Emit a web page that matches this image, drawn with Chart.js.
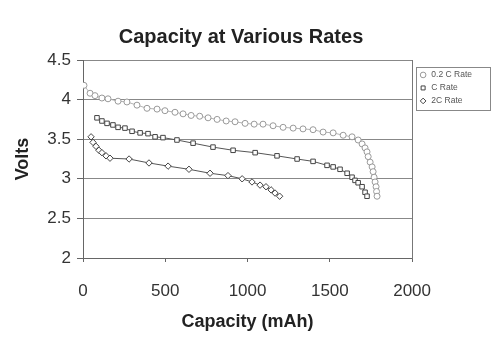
<!DOCTYPE html>
<html>
<head>
<meta charset="utf-8">
<script src="https://cdn.jsdelivr.net/npm/chart.js@4/dist/chart.umd.min.js"></script>
<style>
  html, body { margin: 0; padding: 0; background: #fff; }
</style>
</head>
<body>
<canvas id="rates" width="493" height="338"></canvas>
<script>
// capacity (mAh) / volts for each discharge rate
const cap02C = [6, 43, 73, 115, 152, 213, 267, 328, 389, 450, 498, 559, 608, 657, 709, 760, 815, 870, 924, 985,
  1040, 1094, 1155, 1216, 1277, 1337, 1398, 1459, 1520, 1581, 1635, 1672, 1696, 1714, 1726, 1733, 1745, 1757,
  1763, 1769, 1775, 1781, 1784, 1787];
const volt02C = [4.18, 4.08, 4.05, 4.02, 4.01, 3.98, 3.97, 3.93, 3.89, 3.88, 3.86, 3.84, 3.82, 3.80, 3.79, 3.77,
  3.75, 3.73, 3.72, 3.70, 3.69, 3.69, 3.67, 3.65, 3.64, 3.63, 3.62, 3.59, 3.58, 3.55, 3.53, 3.49, 3.44, 3.39,
  3.34, 3.28, 3.21, 3.15, 3.09, 3.02, 2.96, 2.90, 2.84, 2.78];

const capC = [85, 115, 146, 182, 213, 255, 298, 347, 395, 438, 486, 571, 669, 790, 912, 1046, 1179, 1301, 1398,
  1483, 1520, 1562, 1605, 1635, 1653, 1672, 1696, 1714, 1726];
const voltC = [3.77, 3.73, 3.70, 3.68, 3.65, 3.64, 3.60, 3.58, 3.57, 3.53, 3.52, 3.49, 3.45, 3.40, 3.36, 3.33,
  3.29, 3.25, 3.22, 3.17, 3.15, 3.12, 3.07, 3.02, 2.98, 2.95, 2.90, 2.83, 2.78];

const cap2C = [49, 61, 79, 97, 115, 140, 164, 280, 401, 517, 644, 772, 881, 967, 1027, 1076, 1112, 1143, 1167, 1195];
const volt2C = [3.53, 3.46, 3.41, 3.36, 3.33, 3.29, 3.26, 3.25, 3.20, 3.16, 3.12, 3.07, 3.04, 3.00, 2.96, 2.92,
  2.90, 2.86, 2.82, 2.78];

const seriesNames = ['0.2 C Rate', 'C Rate', '2C Rate'];
const xTicks = [0, 500, 1000, 1500, 2000];
const yTicks = [2, 2.5, 3, 3.5, 4, 4.5];

const font = "'Liberation Sans', Arial, sans-serif";

function pts(xs, ys) {
  return xs.map((x, i) => ({ x: x, y: ys[i] }));
}

// thin frame round the legend, like the old spreadsheet chart
const legendFrame = {
  id: 'legendFrame',
  afterDraw(chart) {
    const hb = chart.legend && chart.legend.legendHitBoxes;
    if (!hb || !hb.length) return;
    const first = hb[0], last = hb[hb.length - 1];
    const ctx = chart.ctx;
    const x0 = Math.round(first.left) - 2.5;
    const y0 = Math.round(first.top) - 3.5;
    const x1 = 490.5;
    const y1 = Math.round(last.top + last.height) + 5.5;
    ctx.save();
    ctx.strokeStyle = '#888';
    ctx.lineWidth = 1;
    ctx.strokeRect(x0, y0, x1 - x0, y1 - y0);
    ctx.restore();
  }
};

new Chart(document.getElementById('rates'), {
  type: 'scatter',
  data: {
    datasets: [{
      label: seriesNames[0],
      data: pts(cap02C, volt02C),
      showLine: true,
      borderColor: '#b4b4b4',
      backgroundColor: '#fff',
      borderWidth: 1,
      pointStyle: 'circle',
      pointRadius: 3,
      pointBorderColor: '#999',
      pointBackgroundColor: '#fff',
      pointBorderWidth: 1
    }, {
      label: seriesNames[1],
      data: pts(capC, voltC),
      showLine: true,
      borderColor: '#555',
      backgroundColor: '#fff',
      borderWidth: 1,
      pointStyle: 'rect',
      pointRadius: 3.2,
      pointBorderColor: '#444',
      pointBackgroundColor: '#fff',
      pointBorderWidth: 1
    }, {
      label: seriesNames[2],
      data: pts(cap2C, volt2C),
      showLine: true,
      borderColor: '#555',
      backgroundColor: '#fff',
      borderWidth: 1,
      pointStyle: 'rectRot',
      pointRadius: 3.2,
      pointBorderColor: '#444',
      pointBackgroundColor: '#fff',
      pointBorderWidth: 1
    }]
  },
  options: {
    responsive: false,
    animation: false,
    layout: { padding: { top: 0, right: 11, bottom: 0, left: 0 } },
    plugins: {
      title: {
        display: true,
        text: 'Capacity at Various Rates',
        color: '#222',
        font: { family: font, size: 20, weight: 'bold' },
        padding: { top: 25, bottom: 11 }
      },
      legend: {
        position: 'right',
        align: 'start',
        fullSize: false,
        title: { display: true, text: '', font: { size: 1 }, padding: { top: 0, bottom: 5 } },
        labels: {
          usePointStyle: true,
          boxWidth: 8,
          boxHeight: 4,
          padding: 4.5,
          color: '#555',
          font: { family: font, size: 8.5 }
        }
      },
      tooltip: { enabled: false }
    },
    scales: {
      x: {
        type: 'linear',
        min: 0,
        max: 2000,
        afterBuildTicks: (s) => { s.ticks = xTicks.map(v => ({ value: v })); },
        afterFit: (s) => { s.height = 80; },
        ticks: {
          color: '#333', padding: 19, maxRotation: 0,
          font: { family: font, size: 17 },
          callback: (v) => String(v)
        },
        grid: { drawOnChartArea: false, tickLength: 4, color: '#666' },
        border: { color: '#666' },
        title: {
          display: true,
          text: 'Capacity (mAh)',
          color: '#222',
          font: { family: font, size: 18, weight: 'bold' },
          padding: { top: 0, bottom: 5 }
        }
      },
      y: {
        type: 'linear',
        min: 2,
        max: 4.5,
        afterBuildTicks: (s) => { s.ticks = yTicks.map(v => ({ value: v })); },
        afterFit: (s) => { s.width = 83; },
        ticks: {
          color: '#333', padding: 6,
          font: { family: font, size: 17 },
          callback: (v) => String(v)
        },
        grid: { color: '#888', tickLength: 6, tickColor: '#666' },
        border: { color: '#666' },
        title: {
          display: true,
          text: 'Volts',
          color: '#222',
          font: { family: font, size: 18, weight: 'bold' },
          padding: { top: 12, bottom: 0 }
        }
      },
      yRight: {
        type: 'linear',
        position: 'right',
        min: 2,
        max: 4.5,
        afterFit: (s) => { s.width = 2.5; },
        ticks: { display: false },
        grid: { display: false },
        border: { display: true, color: '#777' }
      }
    }
  },
  plugins: [legendFrame]
});
</script>
</body>
</html>
